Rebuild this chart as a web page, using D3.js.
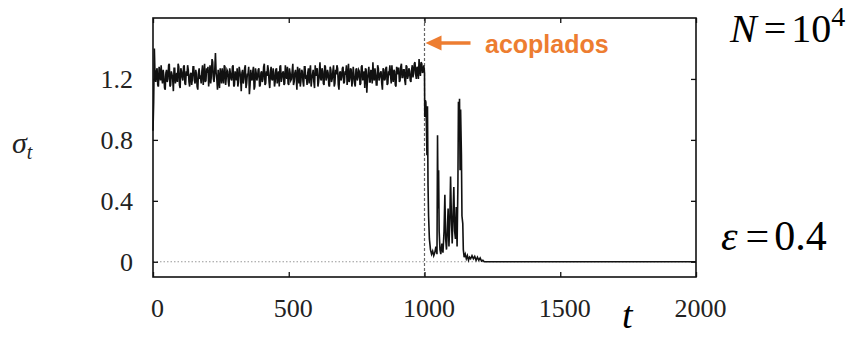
<!DOCTYPE html>
<html>
<head>
<meta charset="utf-8">
<script src="https://cdn.jsdelivr.net/npm/d3@7"></script>
<style>
  body { margin: 0; background: #fff; }
  text { font-family: "Liberation Serif", "Times New Roman", serif; }
</style>
</head>
<body>
<div id="chart"></div>
<script>
// sigma_t before coupling, sampled at t = 0, 5, 10 ... 995
const stepPre = 5
const sigmaPre = [
  0.86, 1.40, 1.18, 1.27, 1.15, 1.24, 1.29, 1.17, 1.22, 1.13,
  1.26, 1.20, 1.30, 1.16, 1.23, 1.12, 1.27, 1.21, 1.18, 1.28,
  1.14, 1.25, 1.19, 1.29, 1.16, 1.22, 1.26, 1.15, 1.24, 1.20,
  1.28, 1.17, 1.23, 1.13, 1.27, 1.21, 1.25, 1.16, 1.30, 1.19,
  1.24, 1.15, 1.29, 1.22, 1.31, 1.18, 1.37, 1.20, 1.26, 1.14,
  1.23, 1.27, 1.17, 1.28, 1.21, 1.25, 1.15, 1.24, 1.19, 1.29,
  1.16, 1.22, 1.27, 1.18, 1.25, 1.12, 1.26, 1.20, 1.29, 1.17,
  1.23, 1.10, 1.26, 1.19, 1.28, 1.15, 1.24, 1.21, 1.27, 1.16,
  1.25, 1.20, 1.30, 1.17, 1.22, 1.26, 1.14, 1.28, 1.19, 1.24,
  1.18, 1.27, 1.22, 1.15, 1.29, 1.21, 1.25, 1.17, 1.23, 1.28,
  1.16, 1.24, 1.20, 1.30, 1.18, 1.26, 1.13, 1.23, 1.27, 1.19,
  1.25, 1.15, 1.28, 1.21, 1.24, 1.17, 1.29, 1.20, 1.26, 1.14,
  1.22, 1.27, 1.18, 1.31, 1.19, 1.25, 1.16, 1.28, 1.21, 1.24,
  1.15, 1.26, 1.20, 1.29, 1.17, 1.23, 1.27, 1.13, 1.25, 1.21,
  1.28, 1.18, 1.24, 1.16, 1.30, 1.20, 1.26, 1.19, 1.23, 1.15,
  1.27, 1.21, 1.25, 1.17, 1.29, 1.22, 1.14, 1.26, 1.20, 1.28,
  1.18, 1.24, 1.31, 1.19, 1.23, 1.16, 1.27, 1.21, 1.25, 1.13,
  1.26, 1.20, 1.28, 1.17, 1.24, 1.22, 1.29, 1.18, 1.25, 1.15,
  1.23, 1.27, 1.19, 1.30, 1.21, 1.26, 1.16, 1.28, 1.22, 1.25,
  1.18, 1.29, 1.24, 1.31, 1.20, 1.27, 1.33, 1.22, 1.30, 1.25
]
// the in-between samples, t = 2.5, 7.5 ... 997.5
const sigmaMid = [
  1.05, 1.22, 1.25, 1.16, 1.28, 1.19, 1.21, 1.26, 1.14, 1.24,
  1.18, 1.29, 1.15, 1.25, 1.20, 1.27, 1.17, 1.24, 1.30, 1.16,
  1.27, 1.21, 1.28, 1.17, 1.25, 1.29, 1.18, 1.23, 1.16, 1.28,
  1.19, 1.26, 1.15, 1.24, 1.20, 1.17, 1.29, 1.22, 1.18, 1.27,
  1.28, 1.21, 1.17, 1.33, 1.20, 1.26, 1.24, 1.13, 1.19, 1.27,
  1.17, 1.21, 1.29, 1.16, 1.26, 1.18, 1.27, 1.20, 1.28, 1.15,
  1.25, 1.19, 1.15, 1.28, 1.21, 1.24, 1.17, 1.27, 1.14, 1.23,
  1.28, 1.16, 1.20, 1.25, 1.13, 1.27, 1.19, 1.26, 1.15, 1.24,
  1.18, 1.28, 1.16, 1.25, 1.29, 1.18, 1.24, 1.20, 1.27, 1.15,
  1.26, 1.17, 1.25, 1.28, 1.18, 1.24, 1.16, 1.29, 1.20, 1.17,
  1.27, 1.19, 1.25, 1.16, 1.24, 1.21, 1.28, 1.17, 1.15, 1.26,
  1.18, 1.28, 1.20, 1.16, 1.27, 1.25, 1.15, 1.23, 1.18, 1.29,
  1.26, 1.15, 1.24, 1.20, 1.27, 1.17, 1.29, 1.19, 1.26, 1.16,
  1.28, 1.18, 1.25, 1.15, 1.26, 1.29, 1.16, 1.24, 1.19, 1.27,
  1.17, 1.25, 1.29, 1.21, 1.18, 1.27, 1.15, 1.28, 1.17, 1.26,
  1.19, 1.26, 1.16, 1.28, 1.19, 1.25, 1.27, 1.11, 1.24, 1.18,
  1.26, 1.17, 1.21, 1.27, 1.16, 1.29, 1.19, 1.24, 1.17, 1.27,
  1.19, 1.27, 1.16, 1.25, 1.29, 1.17, 1.21, 1.26, 1.16, 1.28,
  1.27, 1.18, 1.28, 1.21, 1.26, 1.19, 1.29, 1.20, 1.27, 1.19,
  1.26, 1.21, 1.30, 1.23, 1.28, 1.20, 1.26, 1.31, 1.24, 1.29
]

// after coupling (t >= 1000): irregular samples
const tPost = [
  1000, 1001, 1003, 1005, 1007, 1009, 1011, 1013, 1015, 1018,
  1022, 1026, 1030, 1034, 1038, 1042, 1046, 1048, 1050, 1052,
  1054, 1057, 1060, 1064, 1068, 1072, 1075, 1078, 1081, 1084,
  1087, 1090, 1093, 1096, 1099, 1102, 1105, 1108, 1111, 1114,
  1117, 1120, 1123, 1125, 1127, 1129, 1131, 1133, 1136, 1138,
  1141, 1143, 1146, 1150, 1154, 1158, 1162, 1166, 1170, 1175,
  1180, 1185, 1190, 1195, 1200, 1205, 1210, 1215, 1220, 2000
]
const sigmaPost = [
  1.24, 0.95, 1.06, 1.05, 0.90, 0.70, 1.02, 0.50, 0.30, 0.15,
  0.08, 0.05, 0.07, 0.04, 0.06, 0.10, 0.05, 0.83, 0.35, 0.60,
  0.20, 0.08, 0.05, 0.12, 0.06, 0.20, 0.44, 0.15, 0.08, 0.20,
  0.35, 0.10, 0.25, 0.56, 0.30, 0.12, 0.30, 0.49, 0.20, 0.15,
  0.36, 0.10, 0.50, 1.05, 0.80, 1.07, 0.60, 1.00, 0.70, 0.30,
  0.25, 0.08, 0.03, 0.05, 0.02, 0.04, 0.01, 0.03, 0.02, 0.04,
  0.02, 0.035, 0.01, 0.03, 0.01, 0.025, 0.005, 0.01, 0, 0
]

const xTicks = [0, 500, 1000, 1500, 2000]
const yTicks = [0, 0.4, 0.8, 1.2]
const tCouple = 1000

const data = []
sigmaPre.forEach((s, i) => {
  data.push({t: i * stepPre, s: s})
  data.push({t: i * stepPre + stepPre / 2, s: sigmaMid[i]})
})
tPost.forEach((t, i) => data.push({t: t, s: sigmaPost[i]}))

const W = 861, H = 337
const margin = {top: 18, right: 165, bottom: 60, left: 153},
      width  = W - margin.left - margin.right,
      height = H - margin.top - margin.bottom

const x = d3.scaleLinear().domain([0, 2000]).range([0, width])
const y = d3.scaleLinear().domain([-0.1, 1.6]).range([height, 0])

const serif = "'Liberation Serif', 'Times New Roman', serif"

const root = d3.select("#chart")
  .append("svg")
    .attr("width", W)
    .attr("height", H)

const svg = root.append("g")
    .attr("transform", "translate(" + margin.left + "," + margin.top + ")")

// zero reference (dotted)
svg.append("line")
  .attr("x1", 0).attr("x2", width)
  .attr("y1", y(0)).attr("y2", y(0))
  .style("stroke", "#999")
  .style("stroke-width", 1)
  .style("stroke-dasharray", "1.5,2")

// coupling moment (dashed)
svg.append("line")
  .attr("x1", x(tCouple)).attr("x2", x(tCouple))
  .attr("y1", 0).attr("y2", height)
  .style("stroke", "#666")
  .style("stroke-width", 1.2)
  .style("stroke-dasharray", "3,2")

// series
svg.append("path")
  .datum(data)
  .attr("d", d3.line().x(d => x(d.t)).y(d => y(d.s)))
  .style("fill", "none")
  .style("stroke", "#111")
  .style("stroke-width", 1.6)

// axes with inside ticks on all four sides
const tickFont = 26
const gx = svg.append("g")
  .attr("transform", "translate(0," + height + ")")
  .call(d3.axisBottom(x).tickValues(xTicks).tickSizeInner(-5).tickSizeOuter(0).tickPadding(22)
    .tickFormat(d3.format("d")))
  .attr("font-family", serif)
gx.selectAll("text")
  .attr("dx", 4)
  .style("font-size", tickFont + "px")
  .style("font-family", serif)
  .attr("fill", "#222")
svg.append("g")
  .call(d3.axisTop(x).tickValues(xTicks).tickSizeInner(-5).tickSizeOuter(0).tickFormat(""))

const gy = svg.append("g")
  .call(d3.axisLeft(y).tickValues(yTicks).tickSizeInner(-5).tickSizeOuter(0).tickPadding(20)
    .tickFormat(v => v === 0 ? "0" : d3.format(".1f")(v)))
  .attr("font-family", serif)
gy.selectAll("text")
  .style("font-size", tickFont + "px")
  .style("font-family", serif)
  .attr("fill", "#222")
svg.append("g")
  .attr("transform", "translate(" + width + ",0)")
  .call(d3.axisRight(y).tickValues(yTicks).tickSizeInner(-5).tickSizeOuter(0).tickFormat(""))

svg.selectAll(".domain").remove()
svg.selectAll(".tick line").style("stroke", "#111").style("stroke-width", 1.3)

// frame
svg.append("rect")
  .attr("width", width)
  .attr("height", height)
  .style("fill", "none")
  .style("stroke", "#111")
  .style("stroke-width", 1.6)

// y label sigma_t
const ylab = root.append("text")
  .attr("x", 12)
  .attr("y", 153)
  .style("font-family", serif)
  .style("font-size", "30px")
  .style("font-style", "italic")
  .attr("fill", "#222")
ylab.append("tspan").text("σ")
ylab.append("tspan").attr("dy", 6).style("font-size", "20px").text("t")

// x label t
root.append("text")
  .attr("x", 622)
  .attr("y", 328)
  .style("font-family", serif)
  .style("font-style", "italic")
  .style("font-size", "38px")
  .text("t")

// N = 10^4
const nlab = root.append("text")
  .attr("x", 730)
  .attr("y", 42)
  .style("font-family", serif)
  .style("font-size", "40px")
nlab.append("tspan").style("font-style", "italic").text("N")
nlab.append("tspan").attr("dx", 7).text("=")
nlab.append("tspan").attr("dx", 5).text("10")
nlab.append("tspan").attr("dy", -16).style("font-size", "28px").text("4")

// epsilon = 0.4
const elab = root.append("text")
  .attr("x", 721)
  .attr("y", 250)
  .style("font-family", serif)
  .style("font-size", "42px")
elab.append("tspan").style("font-style", "italic").text("ε")
elab.append("tspan").attr("dx", 8).text("=")
elab.append("tspan").attr("dx", 5).text("0.4")

// annotation arrow
const orange = "#ED7D31"
const ax = margin.left + x(tCouple), ay = 43
root.append("line")
  .attr("x1", ax + 12).attr("x2", ax + 46)
  .attr("y1", ay).attr("y2", ay)
  .style("stroke", orange)
  .style("stroke-width", 3.5)
root.append("path")
  .attr("d", "M" + (ax + 1) + "," + ay + " L" + (ax + 17) + "," + (ay - 7.5) + " L" + (ax + 17) + "," + (ay + 7.5) + " Z")
  .style("fill", orange)
root.append("text")
  .attr("x", 485)
  .attr("y", 53)
  .style("font-family", "'Liberation Sans', Arial, sans-serif")
  .style("font-weight", "bold")
  .style("font-size", "25px")
  .attr("fill", orange)
  .text("acoplados")
</script>
</body>
</html>
